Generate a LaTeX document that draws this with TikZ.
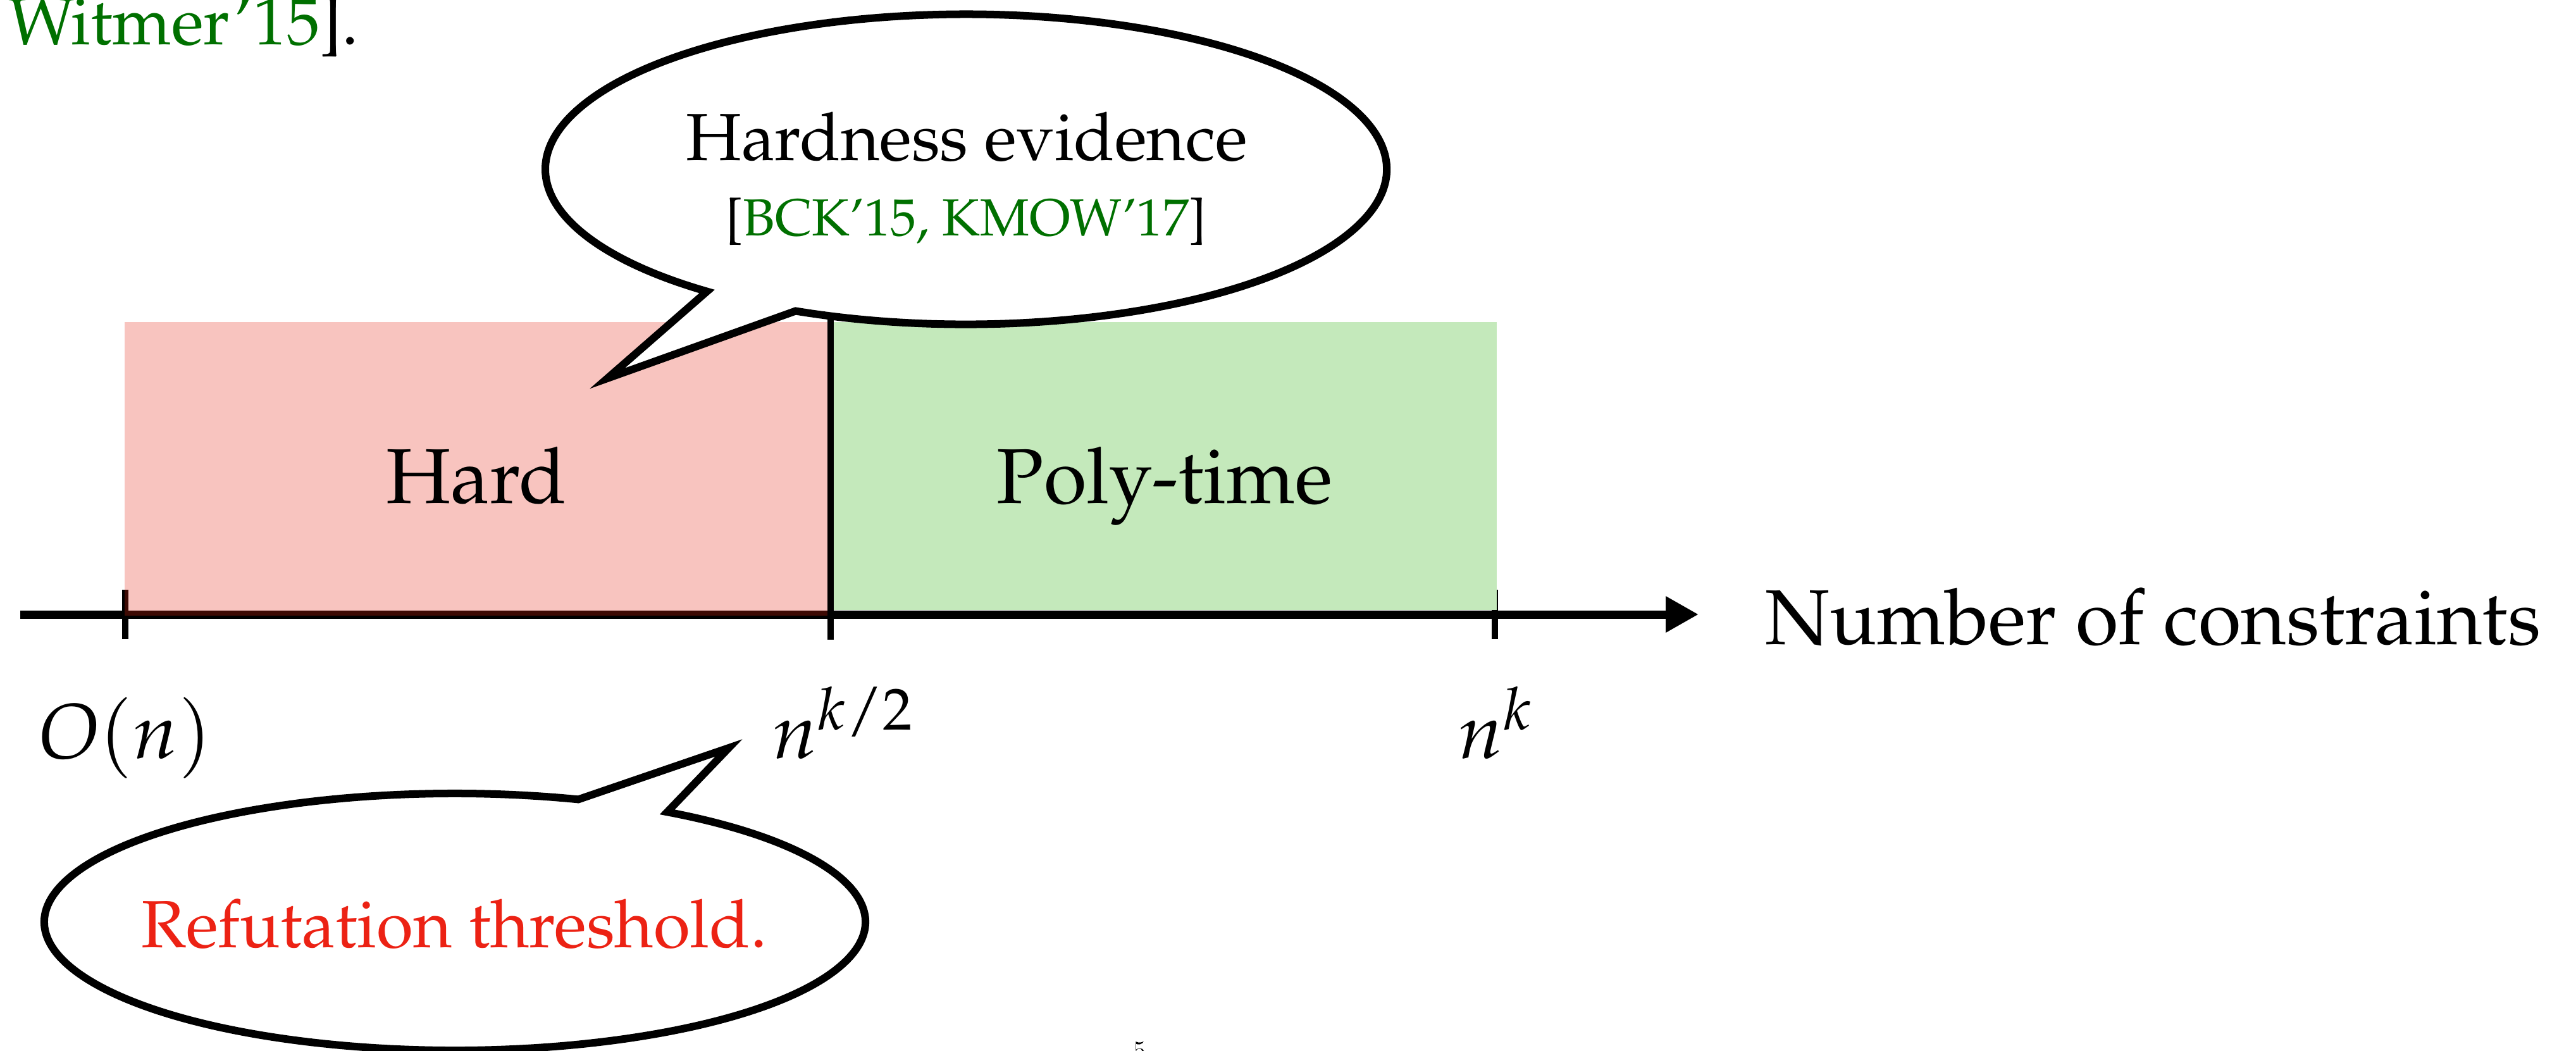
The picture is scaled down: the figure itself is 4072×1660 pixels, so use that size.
\documentclass[tikz,border=0pt]{standalone}
\usepackage[T1]{fontenc}
\usepackage{mathpazo}
\usetikzlibrary{arrows.meta}
\definecolor{citegreen}{RGB}{0,112,0}
\definecolor{alertred}{RGB}{236,34,20}
\definecolor{hardred}{RGB}{230,37,18}
\definecolor{polygreen}{RGB}{196,233,187}
\tikzset{
  lbl/.style={inner sep=0pt, outer sep=0pt, text=black},
  bigtext/.style={lbl, font=\fontsize{35}{42}\selectfont},
  normtext/.style={lbl, font=\fontsize{30}{36}\selectfont},
  balloon/.style={draw=black, line width=0.12cm, fill=white},
  tickmark/.style={line width=0.1cm},
  axisline/.style={line width=0.13cm, -{Triangle[length=0.52cm,width=0.54cm]}},
}
\begin{document}
\begin{tikzpicture}[x=0.01cm, y=-0.01cm]
\useasboundingbox (0,0) rectangle (4072,1660);
% axis and ticks
\coordinate (axstart) at (32,971);
\coordinate (axend) at (2685,971);
\draw[axisline] (axstart) -- (axend);
\coordinate (t0a) at (198,932);  \coordinate (t0b) at (198,1010);
\coordinate (t2a) at (2363,932); \coordinate (t2b) at (2363,1010);
\draw[tickmark] (t0a) -- (t0b);
\draw[tickmark] (t2a) -- (t2b);
% regions
\fill[hardred, opacity=0.27] (197,509) rectangle (1310,973);
\fill[polygreen] (1315,509) rectangle (2366,964);
\coordinate (t1a) at (1313,495); \coordinate (t1b) at (1313,1011);
\draw[tickmark] (t1b) -- (t1a);
% top balloon
\coordinate (hbstart) at (1257.6,491.5);
\coordinate (hbtip) at (960,598);
\draw[balloon] (hbstart) arc[start angle=113.9, end angle=-232, x radius=665, y radius=245] -- (hbtip) -- cycle;
% bottom balloon
\coordinate (rbstart) at (914.2,1263.4);
\coordinate (rbtip) at (1152,1182);
\draw[balloon] (rbstart) arc[start angle=-72.5, end angle=-418.85, x radius=649, y radius=203] -- (rbtip) -- cycle;
% texts
\node[normtext, anchor=base west] (witmer) at (13,70) {\textcolor{citegreen}{Witmer'15}].};
\node[normtext, anchor=base] (hev) at (1528,253) {Hardness evidence};
\node[lbl, font=\fontsize{23.4}{28}\selectfont, anchor=base] (hcite) at (1527,372) {[\textcolor{citegreen}{BCK'15, KMOW'17}]};
\node[bigtext, anchor=base] (hard) at (753,795) {Hard};
\node[bigtext, anchor=base] (poly) at (1841,795) {Poly-time};
\node[bigtext, anchor=base west] (axlabel) at (2790,1018) {Number of constraints};
\node[bigtext, anchor=base] (on) at (198,1198) {$O(n)$};
\node[bigtext, anchor=base west] (nk2) at (1221,1198) {$n^{k/2}$};
\node[bigtext, anchor=base west] (nk) at (2305,1198) {$n^{k}$};
\node[normtext, text=alertred, anchor=base] (refute) at (718,1497) {Refutation threshold.};
\node[lbl, font=\sffamily\fontsize{12}{14}\selectfont, anchor=base west] (pagenum) at (1791,1674) {5};
\end{tikzpicture}
\end{document}
